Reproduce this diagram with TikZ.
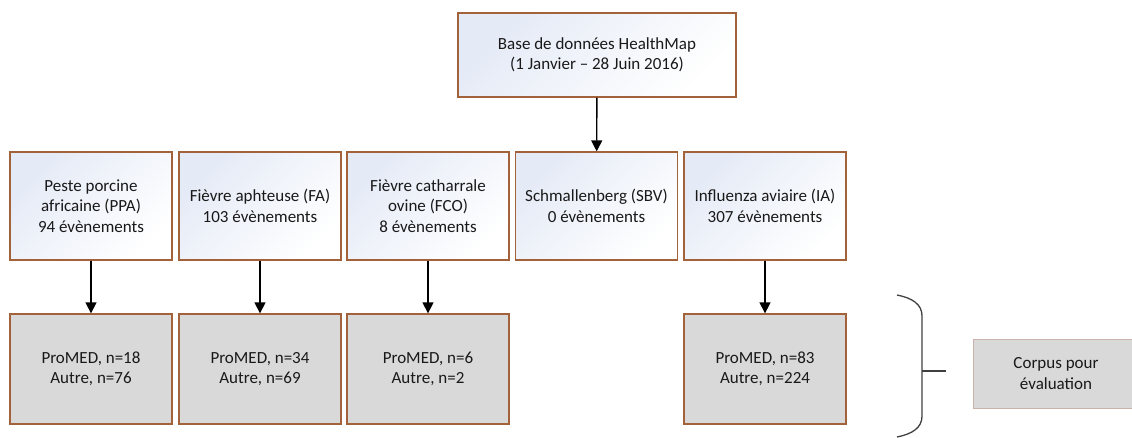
\documentclass[tikz,border=0pt]{standalone}
\usepackage{fontspec}
\setmainfont{Carlito}
\usetikzlibrary{arrows.meta}
\definecolor{brd}{RGB}{164,98,58}
\definecolor{bgblue}{RGB}{228,234,246}
\definecolor{grayfill}{RGB}{217,217,217}
\definecolor{txt}{RGB}{25,25,25}
\definecolor{pale}{RGB}{200,178,170}
\definecolor{brk}{RGB}{64,64,64}
\tikzset{
  topbox/.style={draw=brd, line width=1.3pt, top color=bgblue, bottom color=white, shading angle=45,
    minimum width=162pt, minimum height=108pt, align=center, font=\fontsize{17}{20.5}\selectfont, text=txt, inner sep=0pt},
  resbox/.style={draw=brd, line width=1.3pt, fill=grayfill,
    minimum width=162pt, minimum height=110pt, align=center, font=\fontsize{17}{20.5}\selectfont, text=txt, inner sep=0pt},
  corpbox/.style={draw=pale, line width=0.8pt, fill=grayfill,
    minimum width=166pt, minimum height=69pt, align=center, font=\fontsize{17}{20.5}\selectfont, text=txt, inner sep=0pt},
  arr/.style={line width=1.4pt, -{Triangle[width=11pt,length=11pt]}},
  brace/.style={draw=brk, line width=1.3pt}
}
\begin{document}
\begin{tikzpicture}[x=1pt,y=-1pt]
\useasboundingbox (0,0) rectangle (1132,438);
\node[topbox, minimum width=278pt, minimum height=84pt] (db) at (597,55) {Base de données HealthMap\\(1 Janvier – 28 Juin 2016)};
\node[topbox] (ppa) at (91,206) {Peste porcine\\africaine (PPA)\\94 évènements};
\node[topbox] (fa) at (260,206) {Fièvre aphteuse (FA)\\103 évènements};
\node[topbox] (fco) at (428,206) {Fièvre catharrale\\ovine (FCO)\\8 évènements};
\node[topbox] (sbv) at (596.5,206) {Schmallenberg (SBV)\\0 évènements};
\node[topbox] (ia) at (765,206) {Influenza aviaire (IA)\\307 évènements};
\node[resbox] (rppa) at (91,369) {ProMED, n=18\\Autre, n=76};
\node[resbox] (rfa) at (260,369) {ProMED, n=34\\Autre, n=69};
\node[resbox] (rfco) at (428,369) {ProMED, n=6\\Autre, n=2};
\node[resbox] (ria) at (765,369) {ProMED, n=83\\Autre, n=224};
\node[corpbox] (corpus) at (1056,373.5) {Corpus pour\\évaluation};
\draw[arr] (db) -- (sbv);
\draw[arr] (ppa) -- (rppa);
\draw[arr] (fa) -- (rfa);
\draw[arr] (fco) -- (rfco);
\draw[arr] (ia) -- (ria);
\coordinate (bt) at (897,295);
\coordinate (bb) at (897,437);
\coordinate (bm) at (922,371);
\coordinate (tk) at (946,371);
\draw[brace] (bt) .. controls (912,298) and (922,304) .. (922,316) -- (922,416) .. controls (922,428) and (912,434) .. (bb);
\draw[brace] (bm) -- (tk);
\end{tikzpicture}
\end{document}
